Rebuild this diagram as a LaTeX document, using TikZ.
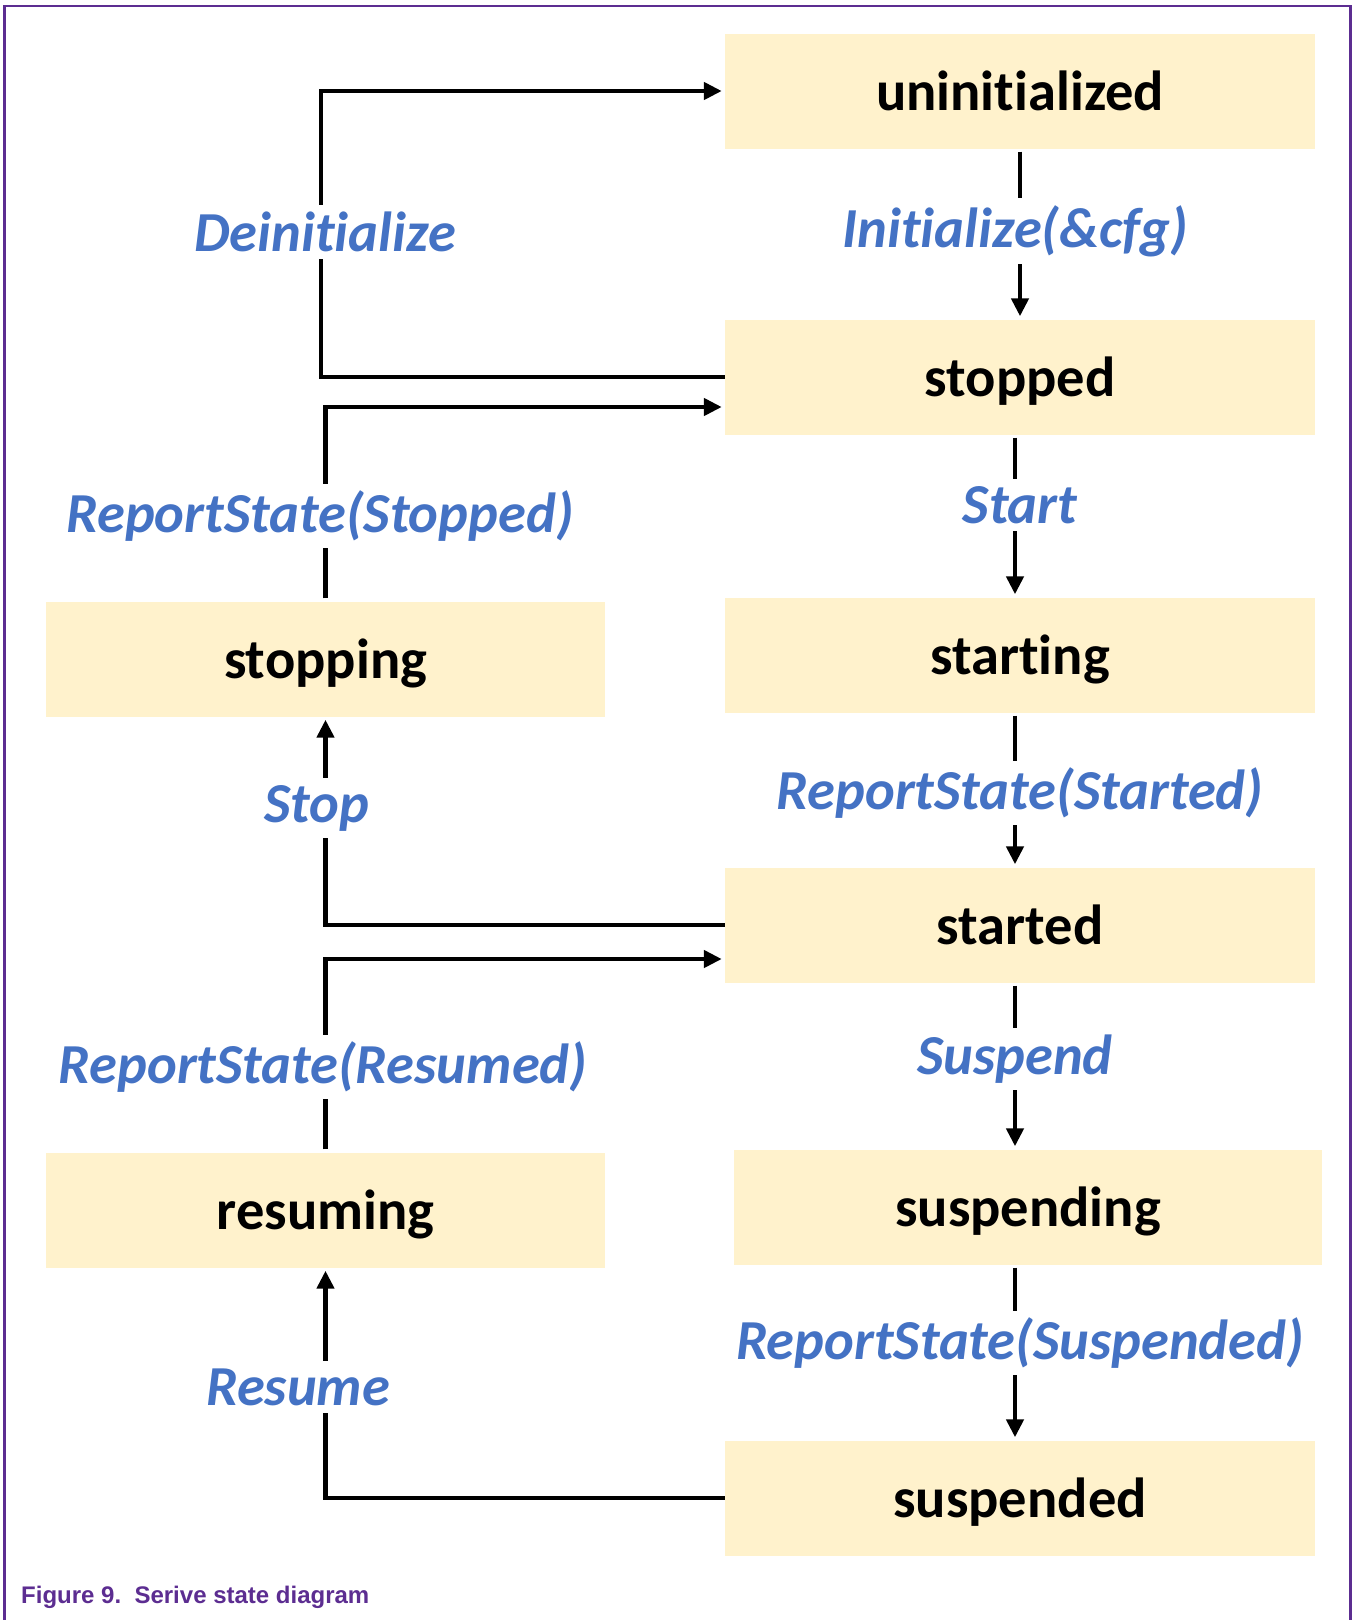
\documentclass[tikz,border=0pt]{standalone}
\usepackage{fontspec}
\newfontfamily\carlitofont[Ligatures={NoCommon},RawFeature={-calt}]{Carlito}
\newfontfamily\capfont{Liberation Sans}
\newcommand\brk{\kern0pt{}}
\usetikzlibrary{arrows.meta,calc}
\definecolor{boxfill}{HTML}{FFF2CC}
\definecolor{lblblue}{HTML}{4472C4}
\definecolor{nxppurple}{HTML}{5C2D91}
\begin{document}
\begin{tikzpicture}[x=1pt,y=-1pt,
  statebox/.style={rectangle,fill=boxfill,minimum height=115pt,inner sep=0pt,text depth=0pt,
    font=\carlitofont\bfseries\fontsize{56.5}{67}\selectfont},
  rbox/.style={statebox,minimum width=590pt},
  lbox/.style={statebox,minimum width=559pt},
  lbl/.style={fill=white,inner sep=7pt,text=lblblue,
    font=\carlitofont\bfseries\itshape\fontsize{56.5}{67}\selectfont},
  conn/.style={line width=4.5pt,-{Triangle[length=18pt,width=17pt]},shorten >=3pt,shorten <=3pt}
]
\useasboundingbox (0,0) rectangle (1352,1620);
% border
\draw[nxppurple,line width=2.5pt] (4.5,1620) -- (4.5,6) -- (1350.5,6) -- (1350.5,1620);
% states
\node[rbox] (uninit) at (1020,91) {uninit\brk i\brk alized};
\node[rbox] (stopped) at (1020,377) {stopped};
\node[rbox] (starting) at (1020,655) {start\brk ing};
\node[rbox] (started) at (1020,925) {started};
\node[statebox,minimum width=588pt] (suspending) at (1028,1207) {suspending};
\node[rbox] (suspended) at (1020,1498) {suspended};
\node[lbox] (stopping) at (325.5,659) {stopping};
\node[lbox] (resuming) at (325.5,1210) {resuming};
% helper coordinates
\coordinate (dk) at (321,91);
% connectors
\draw[conn] (uninit.south) -- (stopped.north);
\draw[conn] ([xshift=-5pt]stopped.south) -- ([xshift=-5pt]starting.north);
\draw[conn] ([xshift=-5pt]starting.south) -- ([xshift=-5pt]started.north);
\draw[conn] ([xshift=-5pt]started.south) -- ([xshift=-13pt]suspending.north);
\draw[conn] ([xshift=-13pt]suspending.south) -- ([xshift=-5pt]suspended.north);
\draw[conn,shorten <=0pt] (stopped.west) -| (dk) -- (uninit.west);
\draw[conn] (stopping.north) |- ($(stopped.west)+(0,30)$);
\draw[conn,shorten <=0pt] (started.west) -| (stopping.south);
\draw[conn] (resuming.north) |- ($(started.west)+(0,34)$);
\draw[conn,shorten <=0pt] (suspended.west) -| (resuming.south);
% labels
\node[lbl] (lDeinit) at (325,232) {Deinit\brk i\brk alize};
\node[lbl] (lInit) at (1015,231) {Init\brk i\brk alize(\&cfg)};
\node[lbl] (lRSstopped) at (320,516) {ReportState(Stopped)};
\node[lbl] (lStart) at (1020,505) {Start};
\node[lbl] (lRSstarted) at (1020,793) {ReportState(Started)};
\node[lbl] (lStop) at (317,808) {Stop};
\node[lbl] (lRSresumed) at (323,1067) {ReportState(Resumed)};
\node[lbl] (lSuspend) at (1015,1059) {Suspend};
\node[lbl] (lRSsusp) at (1020,1343) {ReportState(Suspended)};
\node[lbl] (lResume) at (298,1387) {Resume};
% caption
\node[anchor=base west,inner sep=0pt,text=nxppurple,font=\capfont\bfseries\fontsize{24}{29}\selectfont] (cap) at (21,1603) {Figure 9.\ \ Serive state diagram};
\end{tikzpicture}
\end{document}
